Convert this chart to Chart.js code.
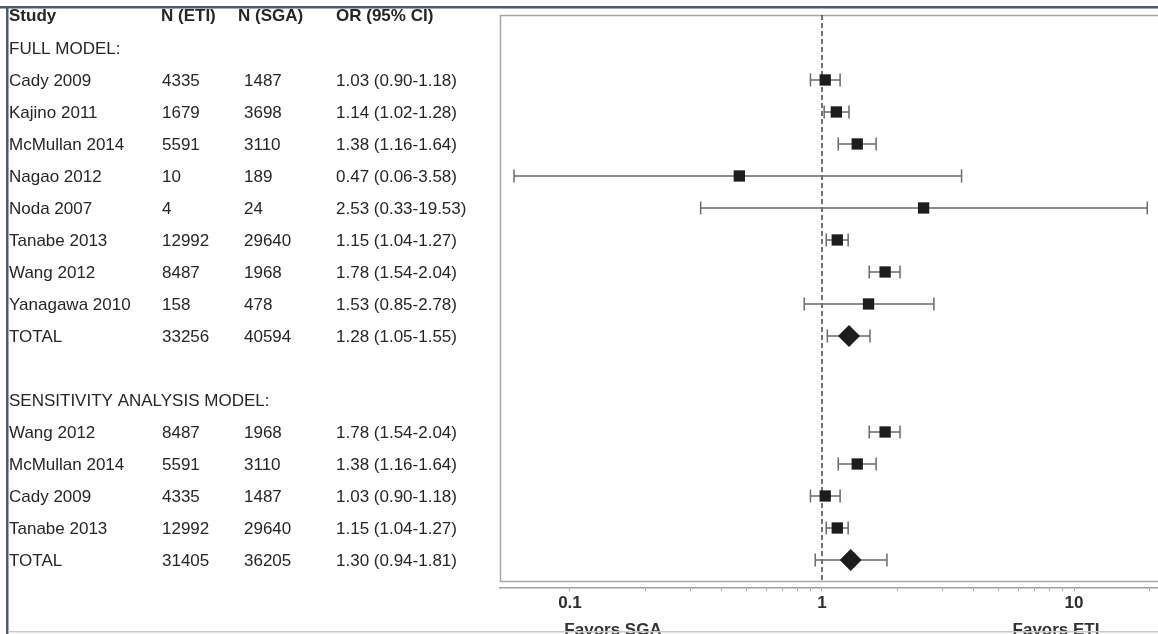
<!DOCTYPE html>
<html>
<head>
<meta charset="utf-8">
<script src="https://cdn.jsdelivr.net/npm/chart.js@4.4.1/dist/chart.umd.min.js"></script>
<style>
  html, body { margin: 0; padding: 0; background: #ffffff; }
  #wrap { position: relative; width: 1158px; height: 634px; overflow: hidden; }
  canvas { display: block; }
</style>
</head>
<body>
<div id="wrap"><canvas id="forest" width="1158" height="634"></canvas></div>
<script>
// Full model studies
const fullStudies = ['Cady 2009', 'Kajino 2011', 'McMullan 2014', 'Nagao 2012', 'Noda 2007', 'Tanabe 2013', 'Wang 2012', 'Yanagawa 2010'];
const fullNEti = [4335, 1679, 5591, 10, 4, 12992, 8487, 158];
const fullNSga = [1487, 3698, 3110, 189, 24, 29640, 1968, 478];
const fullOr = [1.03, 1.14, 1.38, 0.47, 2.53, 1.15, 1.78, 1.53];
const fullLo = [0.90, 1.02, 1.16, 0.06, 0.33, 1.04, 1.54, 0.85];
const fullHi = [1.18, 1.28, 1.64, 3.58, 19.53, 1.27, 2.04, 2.78];

// Sensitivity analysis studies
const sensStudies = ['Wang 2012', 'McMullan 2014', 'Cady 2009', 'Tanabe 2013'];
const sensNEti = [8487, 5591, 4335, 12992];
const sensNSga = [1968, 3110, 1487, 29640];
const sensOr = [1.78, 1.38, 1.03, 1.15];
const sensLo = [1.54, 1.16, 0.90, 1.04];
const sensHi = [2.04, 1.64, 1.18, 1.27];

// Pooled totals: [full model, sensitivity model]
const totalNEti = [33256, 31405];
const totalNSga = [40594, 36205];
const totalOr = [1.28, 1.30];
const totalLo = [1.05, 0.94];
const totalHi = [1.55, 1.81];

// Section headings and column headings
const sectionTitles = ['FULL MODEL:', 'SENSITIVITY ANALYSIS MODEL:'];
const columnHeads = ['Study', 'N (ETI)', 'N (SGA)', 'OR (95% CI)'];

// Axis ticks
const xTickValues = [0.1, 0.2, 0.3, 0.4, 0.5, 0.6, 0.7, 0.8, 0.9, 1, 2, 3, 4, 5, 6, 7, 8, 9, 10, 20];
const xTickLabels = [0.1, 1, 10];
const sideLabels = ['Favors SGA', 'Favors ETI'];

// ---- build the row list (row index = vertical position) ----
const rows = [];
rows.push({ kind: 'section', label: sectionTitles[0] });
fullStudies.forEach((s, i) => rows.push({ kind: 'study', label: s, nEti: fullNEti[i], nSga: fullNSga[i], or: fullOr[i], lo: fullLo[i], hi: fullHi[i] }));
rows.push({ kind: 'total', label: 'TOTAL', nEti: totalNEti[0], nSga: totalNSga[0], or: totalOr[0], lo: totalLo[0], hi: totalHi[0] });
rows.push({ kind: 'blank' });
rows.push({ kind: 'section', label: sectionTitles[1] });
sensStudies.forEach((s, i) => rows.push({ kind: 'study', label: s, nEti: sensNEti[i], nSga: sensNSga[i], or: sensOr[i], lo: sensLo[i], hi: sensHi[i] }));
rows.push({ kind: 'total', label: 'TOTAL', nEti: totalNEti[1], nSga: totalNSga[1], or: totalOr[1], lo: totalLo[1], hi: totalHi[1] });

const squarePts = [], diamondPts = [], ciPts = [];
rows.forEach((r, i) => {
  if (r.kind === 'study' || r.kind === 'total') {
    (r.kind === 'study' ? squarePts : diamondPts).push({ x: r.or, y: i });
    ciPts.push({ x: r.lo, y: i }, { x: r.hi, y: i }, { x: r.hi, y: null });
  }
});

const Y_TOP = -1.03, Y_BOX_BOTTOM = 16.656, Y_AXIS = 16.875;
const fmt = v => v.toFixed(2);
const FONT = '"Liberation Sans", Arial, Helvetica, sans-serif';

const tablePlugin = {
  id: 'forestTable',
  beforeDatasetsDraw(chart) {
    const { ctx, chartArea, scales } = chart;
    const yb = scales.y.getPixelForValue(Y_BOX_BOTTOM);
    ctx.save();
    ctx.strokeStyle = '#a8a8a8';
    ctx.lineWidth = 1.5;
    ctx.strokeRect(chartArea.left + 0.5, chartArea.top + 0.5, chartArea.right - chartArea.left + 20, yb - chartArea.top);
    ctx.restore();
  },
  afterDraw(chart) {
    const { ctx, scales } = chart;
    const y = scales.y;
    ctx.save();
    ctx.fillStyle = '#262626';
    ctx.textBaseline = 'middle';
    ctx.textAlign = 'left';
    // column headings
    ctx.font = 'bold 17px ' + FONT;
    const headX = [9, 161, 238, 336];
    const headY = y.getPixelForValue(-1);
    columnHeads.forEach((h, i) => ctx.fillText(h, headX[i], headY));
    // rows
    ctx.font = '17px ' + FONT;
    const colX = [9, 162, 244, 336];
    rows.forEach((r, i) => {
      const py = y.getPixelForValue(i) + 1;
      if (r.kind === 'section') {
        ctx.fillText(r.label, colX[0], py);
      } else if (r.kind === 'study' || r.kind === 'total') {
        ctx.fillText(r.label, colX[0], py);
        ctx.fillText(String(r.nEti), colX[1], py);
        ctx.fillText(String(r.nSga), colX[2], py);
        ctx.fillText(fmt(r.or) + ' (' + fmt(r.lo) + '-' + fmt(r.hi) + ')', colX[3], py);
      }
    });
    // direction labels under the axis
    ctx.font = 'bold 17px ' + FONT;
    ctx.textAlign = 'center';
    ctx.textBaseline = 'alphabetic';
    ctx.fillStyle = '#333333';
    ctx.fillText(sideLabels[0], 613, 635);
    ctx.fillText(sideLabels[1], 1056, 635);
    // page frame
    ctx.fillStyle = '#4b596c';
    ctx.fillRect(0, 6, 1158, 2.5);
    ctx.fillRect(6, 6, 2.5, 628);
    ctx.fillStyle = '#c9c9d3';
    ctx.fillRect(8, 631, 1150, 1.5);
    ctx.restore();
  }
};

new Chart(document.getElementById('forest'), {
  type: 'scatter',
  data: {
    datasets: [
      {
        label: 'Study OR',
        data: squarePts,
        pointStyle: 'rect',
        pointRadius: 8,
        pointHoverRadius: 8,
        backgroundColor: '#1d1d1d',
        borderColor: '#1d1d1d',
        borderWidth: 0,
        order: 0
      },
      {
        label: 'Pooled OR',
        data: diamondPts,
        pointStyle: 'rectRot',
        pointRadius: 11,
        pointHoverRadius: 11,
        backgroundColor: '#1d1d1d',
        borderColor: '#1d1d1d',
        borderWidth: 0,
        order: 0
      },
      {
        label: '95% CI',
        type: 'line',
        data: ciPts,
        showLine: true,
        spanGaps: false,
        borderColor: '#6a6a6a',
        borderWidth: 1.5,
        pointStyle: 'line',
        rotation: 90,
        pointRadius: 6.5,
        pointHoverRadius: 6.5,
        pointBorderColor: '#6a6a6a',
        pointBorderWidth: 1.5,
        order: 1
      },
      {
        label: 'No effect',
        type: 'line',
        data: [{ x: 1, y: Y_TOP }, { x: 1, y: Y_BOX_BOTTOM }],
        borderColor: '#444444',
        borderWidth: 1.5,
        borderDash: [5, 3],
        pointRadius: 0,
        order: 2
      }
    ]
  },
  options: {
    responsive: false,
    animation: false,
    events: [],
    layout: { autoPadding: false, padding: { left: 500, top: 15, right: 0, bottom: 0 } },
    plugins: { legend: { display: false }, tooltip: { enabled: false } },
    scales: {
      x: {
        type: 'logarithmic',
        bounds: 'data',
        min: 0.05277,
        max: 21.54,
        afterBuildTicks: s => { s.ticks = xTickValues.map(v => ({ value: v })); },
        afterFit: s => { s.height = 46; s.paddingLeft = 0; s.paddingRight = 0; },
        border: { display: true, color: '#a0a0a0', width: 1.5 },
        grid: { drawOnChartArea: false, drawTicks: true, tickLength: 3, color: '#a0a0a0' },
        ticks: {
          autoSkip: false,
          maxRotation: 0,
          padding: 2,
          color: '#2e2e2e',
          font: { family: FONT, size: 17, weight: 'bold' },
          callback: v => (xTickLabels.includes(v) ? String(v) : '')
        }
      },
      y: {
        type: 'linear',
        reverse: true,
        min: Y_TOP,
        max: Y_AXIS,
        display: false
      }
    }
  },
  plugins: [tablePlugin]
});
</script>
</body>
</html>
